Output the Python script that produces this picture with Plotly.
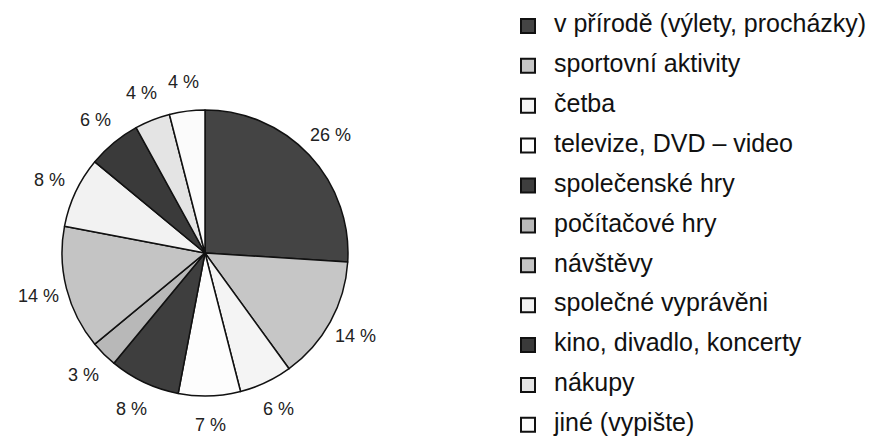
import math
import plotly.graph_objects as go

# leisure activities, share in %
activities = [
    "v přírodě (výlety, procházky)",
    "sportovní aktivity",
    "četba",
    "televize, DVD – video",
    "společenské hry",
    "počítačové hry",
    "návštěvy",
    "společné vyprávěni",
    "kino, divadlo, koncerty",
    "nákupy",
    "jiné (vypište)",
]
shares = [26, 14, 6, 7, 8, 3, 14, 8, 6, 4, 4]
slice_colors = [
    "#444444", "#c6c6c6", "#f4f4f4", "#fdfdfd", "#3e3e3e", "#b8b8b8",
    "#c4c4c4", "#f2f2f2", "#3a3a3a", "#e4e4e4", "#fbfbfb",
]

FONT = "Liberation Sans, Arial, sans-serif"
W, H = 876, 436

# pie placement (pixels): centre and radius
PIE_CX, PIE_CY, PIE_R = 197, 245, 143
LABEL_R = PIE_R + 29

fig = go.Figure()

fig.add_trace(go.Pie(
    labels=activities,
    values=shares,
    sort=False,
    direction="clockwise",
    rotation=0,
    marker=dict(colors=slice_colors, line=dict(color="#111111", width=1.5)),
    textinfo="none",
    hoverinfo="label+percent",
    showlegend=False,
    domain=dict(
        x=[(PIE_CX - PIE_R) / W, (PIE_CX + PIE_R) / W],
        y=[(H - PIE_CY - PIE_R) / H, (H - PIE_CY + PIE_R) / H],
    ),
))

# percentage labels outside the slices, without leader lines
total = sum(shares)
cum = 0
for v in shares:
    theta = 2 * math.pi * (cum + v / 2) / total
    cum += v
    px = PIE_CX + LABEL_R * math.sin(theta)
    py = PIE_CY - LABEL_R * math.cos(theta)
    fig.add_annotation(
        x=px / W, y=1 - py / H, xref="paper", yref="paper",
        text=f"{v} %", showarrow=False,
        xanchor="center", yanchor="middle",
        font=dict(family=FONT, size=18, color="#222222"),
    )

# hand-drawn legend so that rows get the wide spacing of the original
rows = list(range(len(activities)))
fig.add_trace(go.Scatter(
    x=[0] * len(rows), y=rows,
    mode="markers",
    marker=dict(symbol="square", size=14, color=slice_colors,
                line=dict(color="#111111", width=2)),
    cliponaxis=False,
    hoverinfo="skip",
    showlegend=False,
))
fig.add_trace(go.Scatter(
    x=[1] * len(rows), y=rows,
    mode="text",
    text=activities,
    textposition="middle right",
    textfont=dict(family=FONT, size=25, color="#111111"),
    cliponaxis=False,
    hoverinfo="skip",
    showlegend=False,
))

fig.update_xaxes(domain=[520 / W, 1.0], range=[0, 356 / 26], visible=False, fixedrange=True)
fig.update_yaxes(domain=[0.0, 1.0], range=[10.48, -0.45], visible=False, fixedrange=True)

fig.update_layout(
    width=W, height=H,
    margin=dict(l=0, r=0, t=0, b=0),
    paper_bgcolor="white",
    plot_bgcolor="white",
)

fig.write_html("out.html")
